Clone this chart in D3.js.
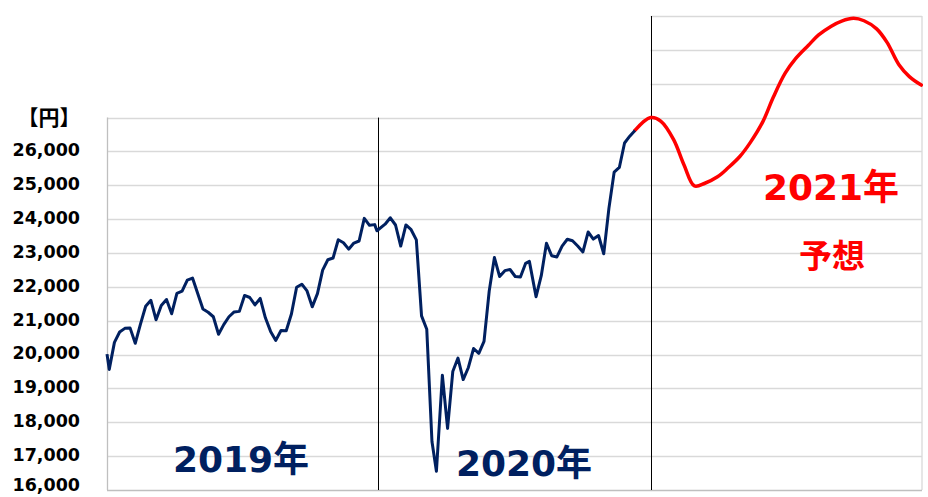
<!DOCTYPE html>
<html>
<head>
<meta charset="utf-8">
<script src="https://cdn.jsdelivr.net/npm/d3@7"></script>
<style>
  html, body { margin: 0; padding: 0; background: #fff; }
  svg { display: block; }
  text { font-family: "DejaVu Sans", "Noto Sans CJK JP", sans-serif; font-weight: bold; }
</style>
</head>
<body>
<svg id="chart"></svg>
<script>
// Weekly closes (円), 2019 - Dec 2020, then the 2021 forecast curve

const actualDates = [
  '2019-01-01', '2019-01-04', '2019-01-11', '2019-01-18', '2019-01-25', '2019-02-01', '2019-02-08',
  '2019-02-15', '2019-02-22', '2019-03-01', '2019-03-08', '2019-03-15', '2019-03-22', '2019-03-29',
  '2019-04-05', '2019-04-12', '2019-04-19', '2019-04-26', '2019-05-10', '2019-05-17', '2019-05-24',
  '2019-05-31', '2019-06-07', '2019-06-14', '2019-06-21', '2019-06-28', '2019-07-05', '2019-07-12',
  '2019-07-19', '2019-07-26', '2019-08-02', '2019-08-09', '2019-08-16', '2019-08-23', '2019-08-30',
  '2019-09-06', '2019-09-13', '2019-09-20', '2019-09-27', '2019-10-04', '2019-10-11', '2019-10-18',
  '2019-10-25', '2019-11-01', '2019-11-08', '2019-11-15', '2019-11-22', '2019-11-29', '2019-12-06',
  '2019-12-13', '2019-12-20', '2019-12-27', '2019-12-30',
  '2020-01-10', '2020-01-17', '2020-01-24', '2020-01-31', '2020-02-07', '2020-02-14', '2020-02-21',
  '2020-02-28', '2020-03-06', '2020-03-13', '2020-03-19', '2020-03-27', '2020-04-03', '2020-04-10',
  '2020-04-17', '2020-04-24', '2020-05-01', '2020-05-08', '2020-05-15', '2020-05-22', '2020-05-29',
  '2020-06-05', '2020-06-12', '2020-06-19', '2020-06-26', '2020-07-03', '2020-07-10', '2020-07-17',
  '2020-07-22', '2020-07-31', '2020-08-07', '2020-08-14', '2020-08-21', '2020-08-28', '2020-09-04',
  '2020-09-11', '2020-09-18', '2020-09-25', '2020-10-02', '2020-10-09', '2020-10-16', '2020-10-23',
  '2020-10-30', '2020-11-06', '2020-11-13', '2020-11-20', '2020-11-27', '2020-12-04', '2020-12-11'
];
const actualValues = [
  20014, 19562, 20360, 20666, 20774, 20788, 20333,
  20901, 21426, 21603, 21026, 21451, 21627, 21206,
  21808, 21871, 22201, 22259, 21345, 21250, 21117,
  20601, 20885, 21117, 21259, 21276, 21746, 21686,
  21467, 21658, 21087, 20685, 20419, 20711, 20704,
  21200, 21988, 22079, 21879, 21410, 21799, 22493,
  22800, 22851, 23392, 23303, 23113, 23294, 23354,
  24023, 23817, 23838, 23657,
  23851, 24041, 23827, 23205, 23828, 23688, 23387,
  21143, 20750, 17431, 16553, 19389, 17820, 19499,
  19897, 19262, 19619, 20179, 20037, 20388, 21878,
  22864, 22305, 22479, 22512, 22306, 22291, 22696,
  22752, 21710, 22330, 23289, 22920, 22883, 23205,
  23406, 23360, 23205, 23030, 23620, 23411, 23517,
  22977, 24325, 25386, 25527, 26250, 26450, 26620
];

const forecastDates = [
  '2020-12-11', '2021-01-01', '2021-01-15', '2021-02-01', '2021-02-15', '2021-03-01', '2021-03-15',
  '2021-04-01', '2021-04-15', '2021-05-01', '2021-05-15', '2021-06-01', '2021-06-15', '2021-07-01',
  '2021-07-15', '2021-08-01', '2021-08-15', '2021-09-01', '2021-09-15', '2021-10-01', '2021-10-15',
  '2021-11-01', '2021-11-15', '2021-12-01', '2021-12-15', '2021-12-31'
];
const forecastValues = [
  26620, 27000, 26890, 26350, 25600, 24980, 25060,
  25250, 25510, 25850, 26260, 26880, 27600, 28310,
  28740, 29130, 29440, 29700, 29850, 29930, 29860,
  29620, 29220, 28560, 28210, 27960
];

const yTicks = [16000, 17000, 18000, 19000, 20000, 21000, 22000, 23000, 24000, 25000, 26000];
const gridMain = [17000, 18000, 19000, 20000, 21000, 22000, 23000, 24000, 25000, 26000, 27000];
const gridForecast = [28000, 29000, 30000];
const yearStarts = ['2019-01-01', '2020-01-01', '2021-01-01', '2022-01-01'];
const yUnit = '【円】';

const W = 928, H = 497;
const NAVY = '#002060', RED = '#ff0000', GRID = '#d9d9d9';

const parse = d3.timeParse('%Y-%m-%d');
const actual = actualDates.map((d, i) => ({ date: parse(d), value: actualValues[i] }));
const forecast = forecastDates.map((d, i) => ({ date: parse(d), value: forecastValues[i] }));
const years = yearStarts.map(parse);

const svg = d3.select('#chart').attr('width', W).attr('height', H);

const x = d3.scaleTime().domain([years[0], years[3]]).range([107, 922]);
const y = d3.scaleLinear().domain([16000, 30000]).range([490, 16]);

const xL = x(years[0]), xR = x(years[3]), x2020 = x(years[1]), x2021 = x(years[2]);

// gridlines
svg.append('g').selectAll('line.grid')
  .data(gridMain)
  .join('line')
  .attr('x1', xL).attr('x2', xR)
  .attr('y1', d => Math.round(y(d)) + 0.5).attr('y2', d => Math.round(y(d)) + 0.5)
  .attr('stroke', GRID).attr('stroke-width', 1.3);

svg.append('g').selectAll('line.grid2')
  .data(gridForecast)
  .join('line')
  .attr('x1', x2021).attr('x2', xR)
  .attr('y1', d => Math.round(y(d)) + 0.5).attr('y2', d => Math.round(y(d)) + 0.5)
  .attr('stroke', GRID).attr('stroke-width', 1.3);

// frame: left axis, right edge, bottom axis
svg.append('line')
  .attr('x1', xL + 0.5).attr('x2', xL + 0.5)
  .attr('y1', y(27000)).attr('y2', y(16000))
  .attr('stroke', '#bfbfbf').attr('stroke-width', 1.3);
svg.append('line')
  .attr('x1', xR).attr('x2', xR)
  .attr('y1', y(30000)).attr('y2', y(16000))
  .attr('stroke', GRID).attr('stroke-width', 1.3);
svg.append('line')
  .attr('x1', xL).attr('x2', xR)
  .attr('y1', y(16000) + 0.5).attr('y2', y(16000) + 0.5)
  .attr('stroke', '#bfbfbf').attr('stroke-width', 1.3);

// year separators
svg.append('line')
  .attr('x1', Math.round(x2020) + 0.5).attr('x2', Math.round(x2020) + 0.5)
  .attr('y1', y(27000)).attr('y2', y(16000))
  .attr('stroke', '#000').attr('stroke-width', 1);
svg.append('line')
  .attr('x1', Math.round(x2021) + 0.5).attr('x2', Math.round(x2021) + 0.5)
  .attr('y1', y(30000)).attr('y2', y(16000))
  .attr('stroke', '#000').attr('stroke-width', 1);

// y labels (bottom one nudged up so it stays inside the frame)
svg.append('g').selectAll('text.tick')
  .data(yTicks)
  .join('text')
  .attr('x', 80)
  .attr('y', d => Math.min(y(d), 486))
  .attr('dy', '0.28em')
  .attr('text-anchor', 'end')
  .attr('font-size', 17.5)
  .attr('fill', '#000')
  .text(d => d3.format(',')(d));

svg.append('text')
  .attr('x', 49)
  .attr('y', y(27000))
  .attr('dy', '0.36em')
  .attr('text-anchor', 'middle')
  .attr('font-size', 21)
  .attr('fill', '#000')
  .text(yUnit);

// lines
const line = d3.line().x(d => x(d.date)).y(d => y(d.value));

svg.append('path')
  .datum(forecast)
  .attr('fill', 'none')
  .attr('stroke', RED)
  .attr('stroke-width', 3.5)
  .attr('stroke-linejoin', 'round')
  .attr('stroke-linecap', 'round')
  .attr('d', line.curve(d3.curveCatmullRom.alpha(0.5)));

svg.append('path')
  .datum(actual)
  .attr('fill', 'none')
  .attr('stroke', NAVY)
  .attr('stroke-width', 3)
  .attr('stroke-linejoin', 'round')
  .attr('d', line.curve(d3.curveLinear));

// year labels
svg.append('text')
  .attr('x', 241).attr('y', 472)
  .attr('text-anchor', 'middle')
  .attr('font-size', 36)
  .attr('fill', NAVY)
  .text('2019年');

svg.append('text')
  .attr('x', 524).attr('y', 476)
  .attr('text-anchor', 'middle')
  .attr('font-size', 36)
  .attr('fill', NAVY)
  .text('2020年');

svg.append('text')
  .attr('x', 831).attr('y', 200)
  .attr('text-anchor', 'middle')
  .attr('font-size', 36)
  .attr('fill', RED)
  .text('2021年');

svg.append('text')
  .attr('x', 832).attr('y', 268)
  .attr('text-anchor', 'middle')
  .attr('font-size', 33)
  .attr('fill', RED)
  .text('予想');
</script>
</body>
</html>
